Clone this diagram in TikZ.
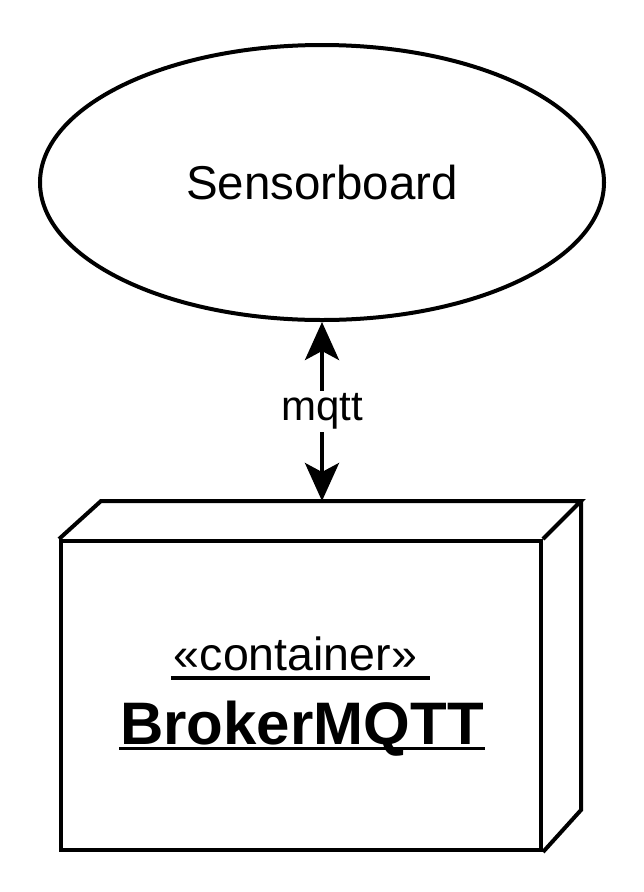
\documentclass[tikz,border=0pt]{standalone}
\usepackage{fontspec}
\setmainfont{Liberation Sans}
\usetikzlibrary{shapes.geometric,arrows.meta}
\begin{document}
\begin{tikzpicture}[x=1pt,y=-1pt,
  shapeline/.style={line width=4pt, line join=miter},
  uline/.style={line width=3.2pt},
  >={Stealth[length=38pt,width=34pt,inset=9pt]}]
\useasboundingbox (0,0) rectangle (644,892);
\node (s) [draw, shapeline, ellipse, minimum width=564pt, minimum height=275pt, inner sep=0pt,
  font=\fontsize{47.5}{56}\selectfont] at (322,182.5) {Sensorboard};
\node (b) [draw, shapeline, minimum width=480pt, minimum height=309pt, inner sep=0pt] at (301,695.5) {};
\coordinate (btl) at (101,501);
\coordinate (btr) at (581,501);
\coordinate (bbr) at (581,810);
\coordinate (top) at (322,501);
\draw[shapeline] (b.north west) -- (btl) -- (btr) -- (b.north east);
\draw[shapeline] (btr) -- (bbr) -- (b.south east);
\node (c) [font=\fontsize{46.5}{54}\selectfont, anchor=base, inner sep=0pt] at (302,670) {«container»\kern13pt};
\draw[uline] ([yshift=-8pt,xshift=-3pt]c.base west) -- ([yshift=-8pt]c.base east);
\node (n) [font=\fontsize{60}{70}\selectfont\bfseries, anchor=base, inner sep=0pt] at (302,744) {BrokerMQTT};
\draw[uline] ([yshift=-4.5pt,xshift=-1pt]n.base west) -- ([yshift=-4.5pt,xshift=1pt]n.base east);
\draw[line width=4pt, <->] (s.south) -- (top)
  node[midway, fill=white, inner sep=3pt, font=\fontsize{42}{50}\selectfont] (m) {mqtt};
\end{tikzpicture}
\end{document}
